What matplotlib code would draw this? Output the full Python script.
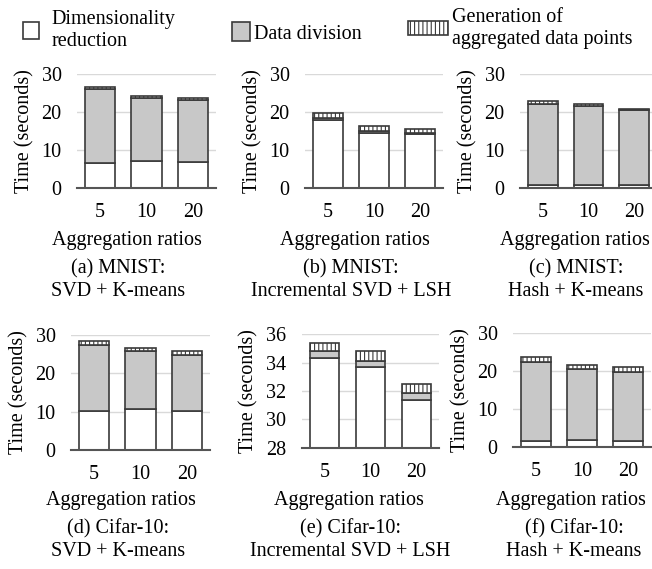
import matplotlib
matplotlib.use('Agg')
import matplotlib.pyplot as plt
from matplotlib.patches import Patch
import numpy as np

plt.rcParams['font.family'] = ['Liberation Serif', 'DejaVu Serif']
plt.rcParams['font.size'] = 14.5
plt.rcParams['hatch.linewidth'] = 0.8

# aggregation ratios on the x axis
ratios = ['5', '10', '20']

# time (seconds) per stage: dimensionality reduction, data division, generation
mnist_svd_km_dim = [6.6, 7.2, 6.9]
mnist_svd_km_div = [19.5, 16.5, 16.2]
mnist_svd_km_gen = [0.4, 0.4, 0.5]

mnist_isvd_lsh_dim = [18.0, 14.6, 14.1]
mnist_isvd_lsh_div = [0.3, 0.3, 0.3]
mnist_isvd_lsh_gen = [1.5, 1.3, 1.1]

mnist_hash_km_dim = [0.7, 0.7, 0.7]
mnist_hash_km_div = [21.5, 20.8, 19.7]
mnist_hash_km_gen = [0.6, 0.5, 0.3]

cifar_svd_km_dim = [10.2, 10.7, 10.2]
cifar_svd_km_div = [17.2, 15.0, 14.7]
cifar_svd_km_gen = [1.0, 1.0, 0.8]

cifar_isvd_lsh_dim = [34.35, 33.67, 31.37]
cifar_isvd_lsh_div = [0.5, 0.47, 0.47]
cifar_isvd_lsh_gen = [0.56, 0.68, 0.66]

cifar_hash_km_dim = [1.6, 1.7, 1.6]
cifar_hash_km_div = [20.9, 18.8, 18.2]
cifar_hash_km_gen = [1.1, 1.1, 1.2]

captions = ['(a) MNIST:\nSVD + K-means', '(b) MNIST:\nIncremental SVD + LSH', '(c) MNIST:\nHash + K-means',
            '(d) Cifar-10:\nSVD + K-means', '(e) Cifar-10:\nIncremental SVD + LSH', '(f) Cifar-10:\nHash + K-means']

panels = [
    (mnist_svd_km_dim, mnist_svd_km_div, mnist_svd_km_gen, (0, 30), [0, 10, 20, 30]),
    (mnist_isvd_lsh_dim, mnist_isvd_lsh_div, mnist_isvd_lsh_gen, (0, 30), [0, 10, 20, 30]),
    (mnist_hash_km_dim, mnist_hash_km_div, mnist_hash_km_gen, (0, 30), [0, 10, 20, 30]),
    (cifar_svd_km_dim, cifar_svd_km_div, cifar_svd_km_gen, (0, 30), [0, 10, 20, 30]),
    (cifar_isvd_lsh_dim, cifar_isvd_lsh_div, cifar_isvd_lsh_gen, (28, 36), [28, 30, 32, 34, 36]),
    (cifar_hash_km_dim, cifar_hash_km_div, cifar_hash_km_gen, (0, 30), [0, 10, 20, 30]),
]

W, H = 652, 569
fig = plt.figure(figsize=(W / 100, H / 100), dpi=100)

# axes boxes in pixels: left, bottom(from top), width, height
boxes = [(77, 188, 139, 114), (305, 188, 138, 114), (520, 188, 137, 114),
         (71, 450, 139, 115), (301.5, 447.7, 138, 113.4), (513, 446.7, 138, 113.4)]
# label / caption centers in pixels
xlabel_x = [127, 355, 575, 121, 349, 571]
caption_x = [118, 351, 576, 118, 350, 574]
xlabel_y = [241, 241, 241, 500, 500, 500]
caption_y = [280, 280, 280, 540, 540, 540]

edge = '#3a3a3a'
gray = '#c8c8c8'
x = np.arange(len(ratios))
w = 0.65

for i, (dim, div, gen, ylim, yt) in enumerate(panels):
    l, b, wd, ht = boxes[i]
    ax = fig.add_axes([l / W, 1 - b / H, wd / W, ht / H])
    dim = np.array(dim); div = np.array(div); gen = np.array(gen)
    ax.bar(x, dim, w, color='white', edgecolor=edge, linewidth=1.2, zorder=3)
    ax.bar(x, div, w, bottom=dim, color=gray, edgecolor=edge, linewidth=1.2, zorder=3)
    ax.bar(x, gen, w, bottom=dim + div, color='white', edgecolor=edge, linewidth=1.2,
           hatch='||||', zorder=3)
    ax.set_xlim(-0.5, 2.5)
    ax.set_ylim(*ylim)
    ax.set_yticks(yt)
    ax.set_xticks(x)
    ax.set_xticklabels(ratios)
    ax.yaxis.grid(True, color='#d9d9d9', linewidth=1, zorder=0)
    ax.set_axisbelow(True)
    for s in ['top', 'right', 'left']:
        ax.spines[s].set_visible(False)
    ax.spines['bottom'].set_color('#555555')
    ax.spines['bottom'].set_linewidth(1.5)
    ax.spines['bottom'].set_zorder(4)
    ax.tick_params(length=0)
    ax.tick_params(axis='y', pad=11)
    ax.tick_params(axis='x', pad=11)
    ax.set_ylabel('Time (seconds)')
    ax.yaxis.set_label_coords(-43 / wd, 0.5)
    ax.set_xlabel('Aggregation ratios')
    ax.xaxis.set_label_coords(xlabel_x[i] / W, 1 - xlabel_y[i] / H, transform=fig.transFigure)
    ax.xaxis.label.set_va('center')
    fig.text(caption_x[i] / W, 1 - caption_y[i] / H, captions[i], ha='center', va='center',
             linespacing=1.2)

# legend, three separate entries across the top
h1 = Patch(facecolor='white', edgecolor=edge, linewidth=1.2)
h2 = Patch(facecolor=gray, edgecolor=edge, linewidth=1.2)
h3 = Patch(facecolor='white', edgecolor=edge, linewidth=1.2, hatch='||||')
common = dict(frameon=False, loc='upper left', borderpad=0, borderaxespad=0, labelspacing=0)
fig.legend([h1], ['Dimensionality\nreduction'], bbox_to_anchor=(23 / W, 1 - 10 / H),
           handlelength=0.8, handleheight=0.95, handletextpad=0.6, **common)
fig.legend([h2], ['Data division'], bbox_to_anchor=(232 / W, 1 - 22 / H),
           handlelength=0.9, handleheight=1.1, handletextpad=0.2, **common)
fig.legend([h3], ['Generation of\naggregated data points'], bbox_to_anchor=(408 / W, 1 - 8 / H),
           handlelength=2.0, handleheight=0.7, handletextpad=0.2, **common)

fig.savefig('out.png', dpi=100)
